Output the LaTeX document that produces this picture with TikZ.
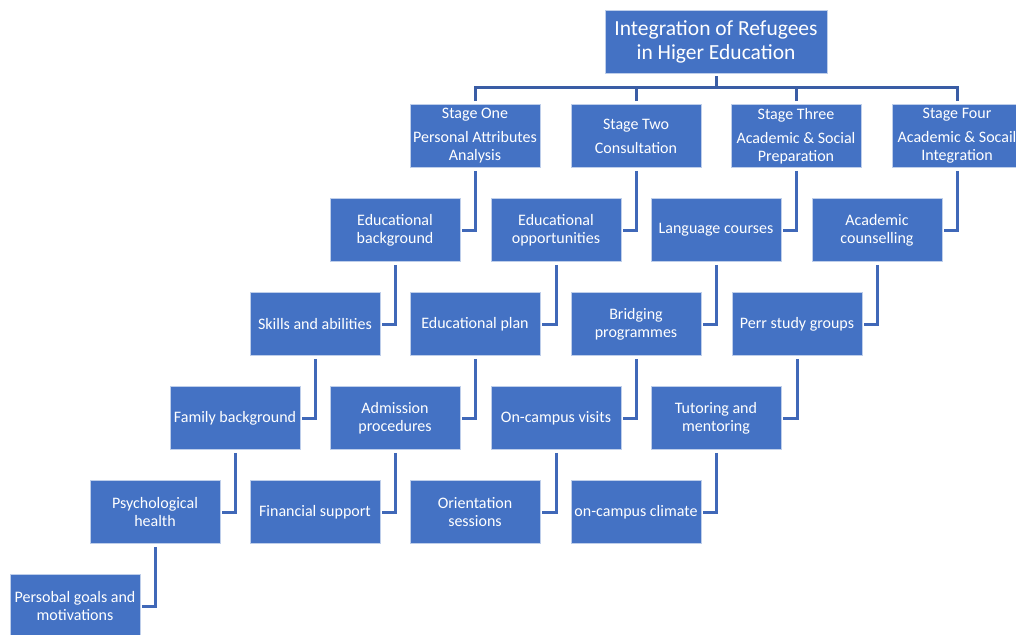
\documentclass[tikz,border=0pt]{standalone}
\usepackage{fontspec}
\setmainfont{Carlito}
\usepackage{tikz}
\usetikzlibrary{calc}
\definecolor{boxblue}{HTML}{4472C4}
\definecolor{linkblue}{HTML}{4068B8}
\definecolor{busblue}{HTML}{3A5DA5}
\tikzset{every picture/.style={x=1pt,y=-1pt},
  box/.style={draw=white!65!boxblue,line width=0.8pt,fill=boxblue,text=white,align=center,
    minimum width=130pt,minimum height=63pt,inner sep=0pt,font=\fontsize{16}{18}\selectfont},
  titlebox/.style={box,minimum width=222pt,font=\fontsize{21.5}{24}\selectfont},
  link/.style={draw=linkblue,line width=3pt,shorten <=3pt,shorten >=2pt},
  buslink/.style={draw=busblue,line width=3pt,shorten <=3pt}}

\begin{document}
\begin{tikzpicture}
  \useasboundingbox (0,0) rectangle (1016,634);
  \node (top) [titlebox] at (716,41.5) {Integration of Refugees\\in Higer Education};
  \coordinate (bus) at (716,87.5);
  % stages
  \node (10) [box] at (475,136) {Stage One\\[6pt]Personal Attributes\\Analysis};
  \node (20) [box] at (636,136) {Stage Two\\[6pt]Consultation};
  \node (30) [box] at (796,136) {Stage Three\\[6pt]Academic \& Social\\Preparation};
  \node (40) [box] at (957,136) {Stage Four\\[6pt]Academic \& Socail\\Integration};
  % stage one
  \node (11) [box] at (395,230) {Educational\\background};
  \node (12) [box] at (315,324) {Skills and abilities};
  \node (13) [box] at (235,418) {Family background};
  \node (14) [box] at (155,512) {Psychological\\health};
  \node (15) [box] at (75,606) {Persobal goals and\\motivations};
  % stage two
  \node (21) [box] at (556,230) {Educational\\opportunities};
  \node (22) [box] at (475,324) {Educational plan};
  \node (23) [box] at (395,418) {Admission\\procedures};
  \node (24) [box] at (315,512) {Financial support};
  % stage three
  \node (31) [box] at (716,230) {Language courses};
  \node (32) [box] at (636,324) {Bridging\\programmes};
  \node (33) [box] at (556,418) {On-campus visits};
  \node (34) [box] at (475,512) {Orientation\\sessions};
  % stage four
  \node (41) [box] at (877,230) {Academic\\counselling};
  \node (42) [box] at (797,324) {Perr study groups};
  \node (43) [box] at (716,418) {Tutoring and\\mentoring};
  \node (44) [box] at (636,512) {on-campus climate};
  \draw [buslink] (top) -- (bus);
  \foreach \s in {10,20,30,40}
    \draw [buslink] (\s) |- (bus);
  \foreach \a/\b in {10/11,11/12,12/13,13/14,14/15,
                     20/21,21/22,22/23,23/24,
                     30/31,31/32,32/33,33/34,
                     40/41,41/42,42/43,43/44}
    \draw [link] (\a) |- (\b);
\end{tikzpicture}
\end{document}
